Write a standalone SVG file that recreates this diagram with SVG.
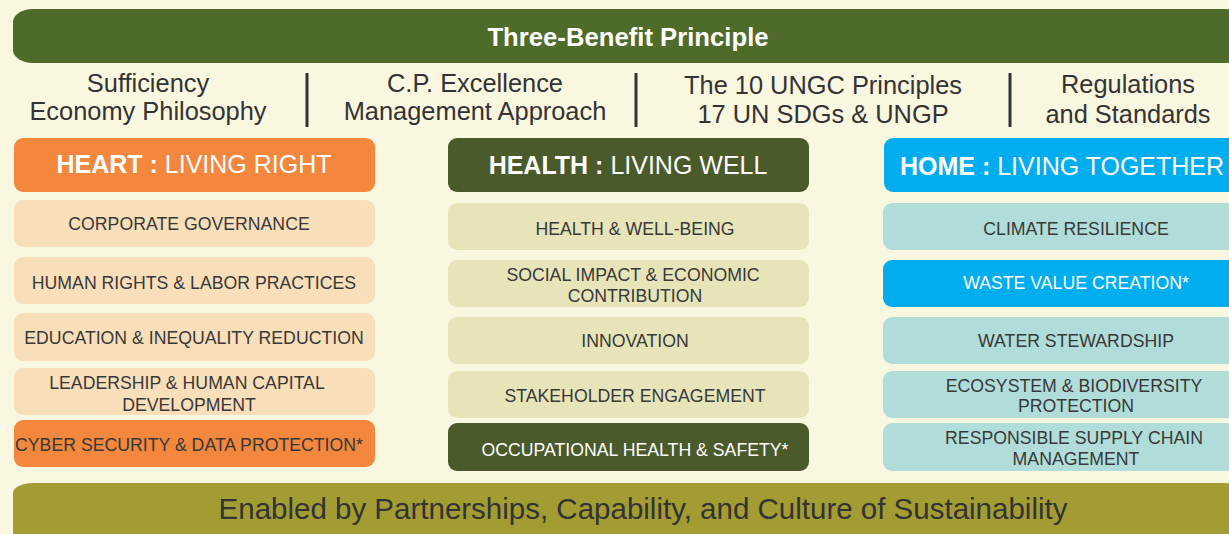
<svg xmlns="http://www.w3.org/2000/svg" width="1229" height="534" viewBox="0 0 1229 534">
<style>
text{font-family:"Liberation Sans",Arial,sans-serif;}
.sub{font-size:25.4px;fill:#333;text-anchor:middle;}
.hdr{font-size:25px;fill:#fff;text-anchor:middle;}
.b{font-weight:bold;}
.cell{font-size:17.7px;fill:#383838;text-anchor:middle;}
.w{fill:#fff;}
.div{stroke:#333;stroke-width:3;}
.lo{fill:#F8DFBA;}
.lg{fill:#E8E4BA;}
.lb{fill:#B0DDD9;}
.or{fill:#F2873D;}
.dg{fill:#4B5A2B;}
.bl{fill:#00ADEF;}
</style>
<rect x="0" y="0" width="1229" height="534" fill="#FAF7E0"/>

<g id="banner">
<rect x="13" y="9" width="1232" height="54" rx="20" ry="13" fill="#4E6B29"/>
<text x="628" y="46" class="hdr b" style="font-size:25.7px">Three-Benefit Principle</text>
</g>

<g id="subtitles">
<text x="148" y="92" class="sub">Sufficiency</text>
<text x="148" y="120" class="sub">Economy Philosophy</text>
<text x="475" y="92" class="sub">C.P. Excellence</text>
<text x="475" y="120" class="sub">Management Approach</text>
<text x="823" y="94" class="sub">The 10 UNGC Principles</text>
<text x="823" y="123" class="sub">17 UN SDGs &amp; UNGP</text>
<text x="1128" y="93" class="sub">Regulations</text>
<text x="1128" y="123" class="sub">and Standards</text>
<line x1="307" y1="73" x2="307" y2="127" class="div"/>
<line x1="636" y1="73" x2="636" y2="127" class="div"/>
<line x1="1010" y1="73" x2="1010" y2="127" class="div"/>
</g>

<g id="heart">
<rect x="14" y="138" width="361" height="54" rx="9" class="or"/>
<text x="194" y="173" class="hdr"><tspan class="b">HEART : </tspan>LIVING RIGHT</text>
</g>
<g id="health">
<rect x="448" y="138" width="361" height="54" rx="9" class="dg"/>
<text x="628" y="174" class="hdr"><tspan class="b">HEALTH : </tspan>LIVING WELL</text>
</g>
<g id="home">
<rect x="884" y="138" width="385" height="54" rx="9" class="bl"/>
<text x="1062" y="175" class="hdr"><tspan class="b">HOME : </tspan>LIVING TOGETHER</text>
</g>

<g id="corporate-governance">
<rect x="14" y="200" width="361" height="47" rx="9" class="lo"/>
<text x="189" y="230" class="cell">CORPORATE GOVERNANCE</text>
</g>
<g id="human-rights">
<rect x="14" y="257" width="361" height="47" rx="9" class="lo"/>
<text x="194" y="289" class="cell">HUMAN RIGHTS &amp; LABOR PRACTICES</text>
</g>
<g id="education">
<rect x="14" y="313" width="361" height="48" rx="9" class="lo"/>
<text x="194" y="344" class="cell">EDUCATION &amp; INEQUALITY REDUCTION</text>
</g>
<g id="leadership">
<rect x="14" y="368" width="361" height="47" rx="9" class="lo"/>
<text x="187" y="389" class="cell">LEADERSHIP &amp; HUMAN CAPITAL</text>
<text x="189" y="411" class="cell">DEVELOPMENT</text>
</g>
<g id="cyber-security">
<rect x="14" y="420" width="361" height="47" rx="9" class="or"/>
<text x="189" y="451" class="cell">CYBER SECURITY &amp; DATA PROTECTION*</text>
</g>

<g id="health-wellbeing">
<rect x="448" y="203" width="361" height="47" rx="9" class="lg"/>
<text x="635" y="235" class="cell">HEALTH &amp; WELL-BEING</text>
</g>
<g id="social-impact">
<rect x="448" y="260" width="361" height="47" rx="9" class="lg"/>
<text x="633" y="281" class="cell">SOCIAL IMPACT &amp; ECONOMIC</text>
<text x="635" y="302" class="cell">CONTRIBUTION</text>
</g>
<g id="innovation">
<rect x="448" y="317" width="361" height="47" rx="9" class="lg"/>
<text x="635" y="347" class="cell">INNOVATION</text>
</g>
<g id="stakeholder">
<rect x="448" y="371" width="361" height="47" rx="9" class="lg"/>
<text x="635" y="402" class="cell">STAKEHOLDER ENGAGEMENT</text>
</g>
<g id="occupational">
<rect x="448" y="423" width="361" height="48" rx="9" class="dg"/>
<text x="635" y="456" class="cell w">OCCUPATIONAL HEALTH &amp; SAFETY*</text>
</g>

<g id="climate">
<rect x="883" y="203" width="386" height="47" rx="9" class="lb"/>
<text x="1076" y="235" class="cell">CLIMATE RESILIENCE</text>
</g>
<g id="waste">
<rect x="883" y="260" width="386" height="47" rx="9" class="bl"/>
<text x="1076" y="289" class="cell w">WASTE VALUE CREATION*</text>
</g>
<g id="water">
<rect x="883" y="317" width="386" height="47" rx="9" class="lb"/>
<text x="1076" y="347" class="cell">WATER STEWARDSHIP</text>
</g>
<g id="ecosystem">
<rect x="883" y="371" width="386" height="47" rx="9" class="lb"/>
<text x="1074" y="392" class="cell">ECOSYSTEM &amp; BIODIVERSITY</text>
<text x="1076" y="412" class="cell">PROTECTION</text>
</g>
<g id="supply-chain">
<rect x="883" y="423" width="386" height="48" rx="9" class="lb"/>
<text x="1074" y="444" class="cell">RESPONSIBLE SUPPLY CHAIN</text>
<text x="1076" y="465" class="cell">MANAGEMENT</text>
</g>

<g id="enablers">
<rect x="13" y="483" width="1232" height="70" rx="20" ry="10" fill="#A39C32"/>
<text x="643" y="519" style="font-size:29.5px;fill:#333;text-anchor:middle">Enabled by Partnerships, Capability, and Culture of Sustainability</text>
</g>
<g id="connectors"></g>
</svg>
